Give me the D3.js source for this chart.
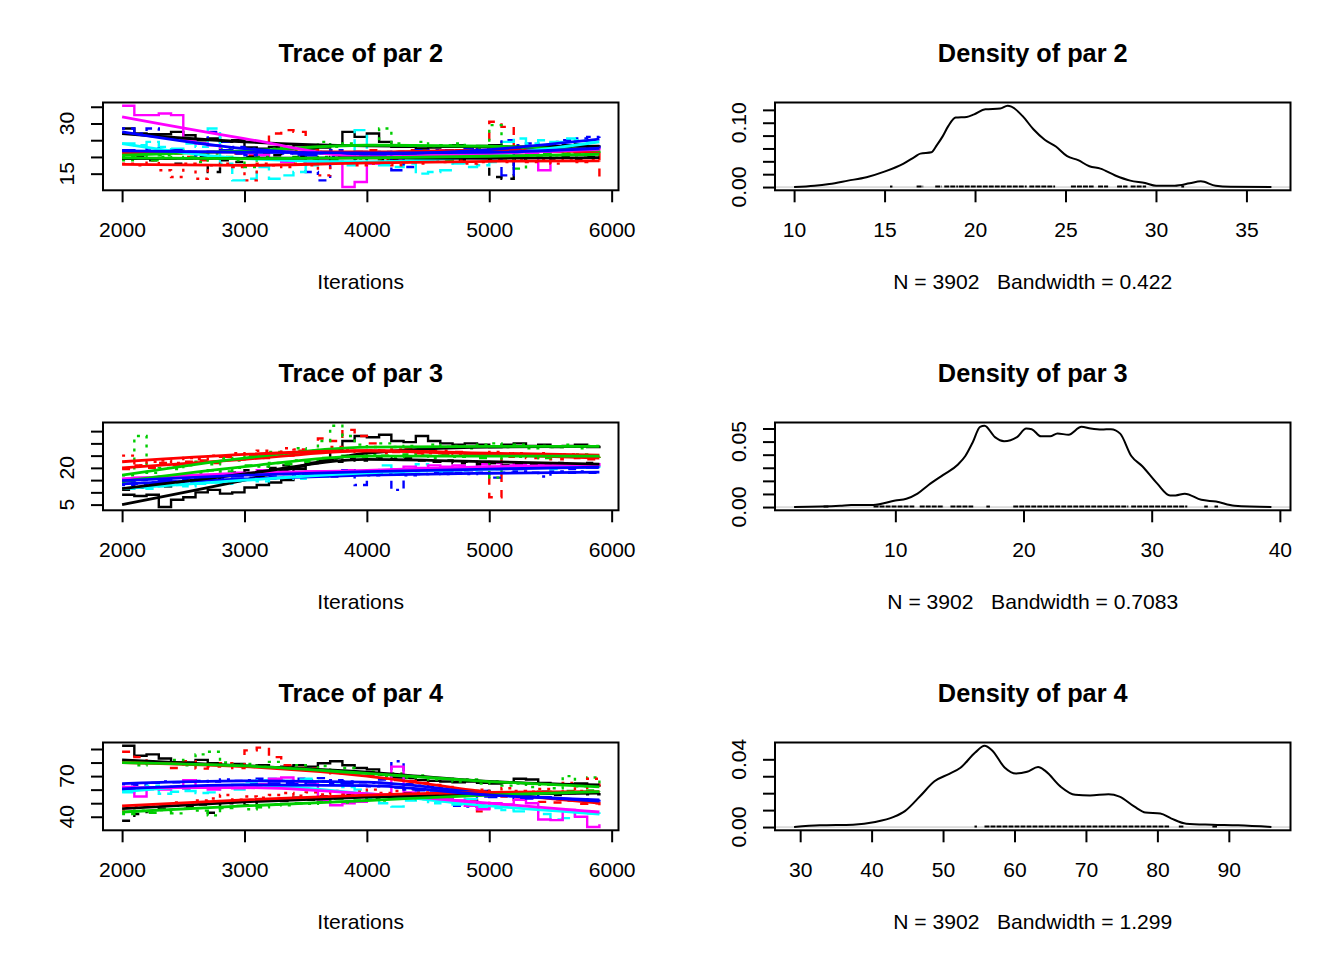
<!DOCTYPE html>
<html><head><meta charset="utf-8">
<script src="https://cdn.jsdelivr.net/npm/d3@7"></script>
<style>
body{margin:0;background:#fff}
text{font-family:"Liberation Sans",Arial,sans-serif;fill:#000}
</style>
</head><body>
<svg id="c" width="1344" height="960"></svg>
<script>
// ---------------- DATA ----------------
const traceIter = [2000,2100,2200,2300,2400,2500,2600,2700,2800,2900,
                   3000,3100,3200,3300,3400,3500,3600,3700,3800,3900,
                   4000,4100,4200,4300,4400,4500,4600,4700,4800,4900,
                   5000,5100,5200,5300,5400,5500,5600,5700,5800,5900];
const smoothIter = [2000,3000,4000,5000,5900];
const xTicksTrace = [2000,3000,4000,5000,6000];

const par2Chains = [
 [28.5,27,26.8,26.8,27.5,26.5,25,25.5,24.5,25, 22.8,22.5,23,22.5,23.5,22.5,22.8,23.5,27.5,26, 27,24.5,23,23,22.5,22.8,23,23.5,23,23.3, 23.5,22.5,22.8,23,23.4,23.2,23.5,23.8,23.2,23.5],
 [21.5,20.5,21,22,21,20,19,21.5,22,21, 20.5,21,27,28,27.5,22,21.5,21,20.5,21.5, 22,21,21.5,22,21,20.5,22,21.5,22.5,21, 30.5,29,22,21.5,22,21.5,22.5,21,22,14],
 [19,20,21,20.5,22,21.5,20,21,22.5,21.5, 21,22,22.5,23,22,23.5,24.5,23,24,23.5, 23.5,28.5,24,23.5,24.5,23,23.5,24,23,22.5, 29.5,23,22.5,21.5,22,21.5,21,22,21.5,22],
 [28.5,27,28.5,26,25.5,25,24,27.5,24.5,23, 22.5,21.5,22,21,20.5,15.5,13,20,21,20.5, 21,20.5,21.5,17,21,22,21.5,22,21.5,23, 22.5,25,23.5,24,23.5,24.5,25,25.5,26,27],
 [24,23.5,24.5,23,22.5,24,23,28.5,18,13, 13.5,17,13.5,14.5,15.5,17.5,18,18.5,17.5,28, 18,17.5,17,18,15,15.5,16,18,17,17.5, 18.5,24.5,25.5,24,25,24.5,25.5,25,24.5,25],
 [35.3,32.5,32.5,33,32.5,25,24,23.5,22,21.5, 21,20.5,19.5,18.5,19,18.5,19,18.5,11,12.5, 18,18.5,19,20.5,21,20.5,22,21.5,20.5,21, 21.5,20,20.5,21,16,21.5,22,21.5,22.5,22],
 [19.5,20,19,19.5,18,19.5,20,15.5,19,18.5, 20,19.5,20.5,19.5,20,19.5,18.5,20,20.5,19.5, 20,19,19.5,20.5,20,19.5,20,19,20.5,20, 14,13.5,19,20,20.5,19.5,20,19,20,20.5],
 [18,17.5,19,16,14,18,13.5,17.5,18,17, 13,18,17.5,17,18,17.5,14.5,18,18.5,17.5, 18,19,17.5,18.5,18,19,18.5,19,18,18.5, 19,18.5,19.5,18.5,19,18,19.5,18.5,19,18.5],
 [20,19.5,19,20,19.5,20,18.5,19.5,20,19, 17,20,19.5,19,20,19.5,20,19,20.5,19.5, 20,19.5,20,20.5,19.5,20,19,20.5,20,21, 20.5,19.5,16.5,20.5,21,20.5,21,20.5,21.5,21],
 [22,21.5,22.5,21,22,21.5,20.5,21.5,22,21, 20.5,21.5,22,21.5,21,20.5,21.5,22,21,21.5, 20.5,21.5,16,21,22,21.5,22,21.5,22.5,22, 21.5,14.5,22,22.5,21.5,22,23,22.5,23,22.5]
];
const par2Smooth = [
 [27,24.5,23.3,23.0,23.2],[21,21.5,21.5,22,21.5],[20.5,21.8,23.5,23.2,22],[27.5,22.5,20.8,22.2,25.3],[24,19.5,18.5,20.5,24.5],
 [32,25.5,20,21,22.3],[19.5,19.6,19.7,19.6,19.8],[17.8,17.5,18.2,18.7,18.8],[19.7,19.5,19.7,20.2,20.8],[21.8,21.4,21.2,21.4,22.6]
];

const par3Chains = [
 [9,8.5,9,4,7,8,10,11,9.5,10, 12,13,14,15,19.5,22,23,27.5,31,33, 32.5,33.5,31,30.5,33,31,30,29.5,30,29.5, 28.5,29.5,30,29,29.5,28.5,29,29.5,28.5,29],
 [19.5,21,20,22,21,22.5,23,22,24.5,23.5, 25,24,26,25,27,26.5,32,31,35.5,33, 30,27,26.5,28,26,27,25.5,26.5,25,26, 8,24.5,25.5,24,25,23.5,24.5,24,23.5,24],
 [17,33,18,20,19.5,21,22.5,21.5,24,23, 25.5,24.5,26.5,25.5,28,27,31,37.2,33,29.5, 28.5,30,28.5,29,28,29.5,28.5,29,28,29.5, 30,28.5,29.5,28,29,28.5,29.5,28,29,28.5],
 [13,13.5,14,13,14.5,14,15,14.5,15.5,15, 16,15.5,16.5,16,17,16.5,17,16.5,17.5,13, 17,17.5,11,17,17.5,18,17.5,18,17.5,18, 16,18,18.5,18,16.5,18.5,18,18.5,18,18.5],
 [11.5,12,11.5,12.5,13,12.5,13.5,14,13.5,14.5, 15,14.5,15.5,16,15.5,17,16.5,17.5,17,18, 18.5,21,18,19.5,21.5,19,18.5,19.5,19,20, 19.5,20,19.5,20.5,20,19.5,20.5,20,20.5,21],
 [15.5,16,15.5,16.5,16,17,16.5,17,17.5,18, 17.5,19,18,17.5,18,18.5,18,18.5,19,18.5, 19,18.5,19.5,20.5,20,21,20.5,21,20,21.5, 22,21,21.5,20.5,21.5,21,20.5,21.5,21,22],
 [11,12,13,12.5,14,15,16,15.5,17,18, 19,18.5,20,21,20.5,22,23,22.5,24,23, 24.5,24,23.5,24,23,22.5,23,22,22.5,21.5, 22,21,22,21.5,21,22,21.5,21,22,21.5],
 [25,21,22.5,23,22,24,23.5,25,24.5,26, 25.5,27,26,28,27.5,26.5,27,28.5,27.5,26.5, 27,26,27.5,26.5,25.5,26,27,25.5,26,25, 26.5,25.5,26,25,26,24.5,25.5,25,24.5,25.5],
 [14,15,16,15.5,17,16.5,18,19,18.5,20, 21,20.5,22,21.5,23,22.5,24,23.5,25,24.5, 25.5,25,24.5,25.5,25,24,25,24.5,25.5,24, 16,25,24.5,25.5,24,25,24.5,25.5,24.5,25],
 [14.5,15,15.5,15,16,15.5,16,16.5,17,16.5, 17.5,17,18,17.5,18,17.5,18.5,18,19,18.5, 18,19,18.5,19,19.5,19,18.5,19.5,19,20, 19.5,20,19.5,20,20.5,20,19.5,20.5,20,20.5]
];
const par3Smooth = [
 [5,15,26,28.5,28.8],[20,23.5,27,25.5,24],[17,24,28.5,28.8,28.8],[13.5,15.5,17,17.8,18.3],[11.5,15,18,19.5,20.5],
 [15.5,17.8,19,20.5,21.3],[11.5,17.5,23.5,22.5,21.5],[22.5,25.5,27,26,25.2],[14.5,20.5,24.8,24.8,24.8],[14.8,17,18.5,19.5,20.3]
];

const par4Chains = [
 [92.4,85,86,83,80,80,82,79.5,78,79, 77.5,78,76.5,77,78,77,79.5,81,78,76, 75,71,69,68.5,67,66.5,66,65.5,66,65, 64.5,65,68,67.5,65,64,63.5,64.5,63,63.5],
 [88,84,80,79,76,81,75.5,77,79.5,76, 89,91,84,78,76,75.5,74,72,73,71, 70.5,68,67,66.5,65,63.5,62,60.5,52,44, 58,55,52.5,54,51,50.5,52,49.5,50,48.5],
 [80,78,81,79.5,82,78,86,88,80,78.5, 79,77,80.5,76,78,75,77.5,74,76,72, 73.5,70,72,69,70.5,67.5,68,66,67.5,64.5, 66,63,64.5,62,63.5,61,70,62.5,69,61.5],
 [64,63.5,65,66,65.5,67,66.5,66,67.5,66.5, 67,68,67.5,66.5,68,67,68.5,67,66,65.5, 65,67.5,81,64,63,62,60,48,47.5,59, 57.5,56,55.5,56,54.5,53,52.5,52,51.5,51],
 [58,60,63,57,58.5,59,57.5,58,62,60, 66,67,68,66.5,67.5,68,66,65.5,62,60, 53,50,47.5,52,55,50,51.5,49,53,47, 46.5,45,44,46,42,38,39,44,42.5,42],
 [62,55,61,60,62,67,61.5,60,62.5,61, 62,64,68,69,66,64,52,48.5,50,51, 56,55,77,58,56.5,55,54,52,48,45.5, 50,49,52.5,50,38,37.5,45,40,32.4,34.5],
 [37,42,44,46,48,47,49,43,50,51, 48.5,52,53,51.5,54,52.5,55,53.5,56,55, 54,55.5,56,57,55,56.5,57.5,56,58,59, 57.5,58,55.5,57,58.5,56,57.5,58,56.5,57.5],
 [44,48,47.5,49,50.5,49,52,53.5,56,52.5, 55,54,56,57.5,55.5,58,56.5,59,57,58.5, 60,57.5,59,60.5,58,61,57,59.5,58,60, 57.5,61,59,58.5,60.5,58,65,59,68,60],
 [42,44.5,43,45,42.5,46,44.5,41,46.5,48, 45.5,47,49,48.5,50,49.5,51,53,50.5,52, 54.5,52,53.5,55,53,56,54.5,57,55.5,56, 57.5,56,58,57,58.5,57.5,59,58,59.5,58.5],
 [60,61,60.5,61.5,62,61,62.5,63,62,63.5, 64,63,64.5,65,64,65.5,66,65,64.5,63, 62.5,63,61.5,60,59.5,58,57.5,56,56.5,55, 54.5,55.5,54,53.5,54.5,53,52.5,53,52,52.5]
];
const par4Smooth = [
 [82,77.5,73,66,63.5],[80,77,70,58,50],[80,77.5,72,66,62],[64.5,66.5,65.5,57,51.5],[58.5,63.5,57,48,42],
 [61.5,61.5,57,50,43.5],[46,51,54.5,56.5,57.5],[48,52.5,56,58,58.5],[43.5,48,52,56,58.5],[60.5,63.5,63,56,52.5]
];

const dens2X = [10.0,11.13,11.95,12.98,14.0,15.03,16.05,16.67,16.98,17.59,17.9,18.21,18.52,18.93,19.54,19.95,20.57,21.39,21.8,22.01,22.62,23.24,23.85,24.47,25.09,25.7,26.32,26.93,27.75,28.58,29.4,30.01,31.04,31.86,32.48,33.3,34.12,36.38];
const dens2Y = [0,0.002,0.0048,0.010,0.0153,0.0243,0.0365,0.047,0.052,0.054,0.0656,0.0788,0.0947,0.108,0.109,0.113,0.121,0.122,0.1264,0.125,0.1106,0.0894,0.0735,0.063,0.0481,0.0418,0.0323,0.0286,0.018,0.01,0.0063,0.0021,0.0021,0.0058,0.009,0.002,0.0005,0];
const dens3X = [2.1,5.69,6.55,8.27,10.0,10.86,11.73,12.59,13.74,14.89,15.46,16.04,16.61,16.96,17.77,18.48,19.49,20.21,20.64,21.36,22.08,22.65,23.52,24.52,25.24,26.1,26.82,27.54,28.41,29.27,30.42,31.43,31.86,32.58,33.87,35.02,36.46,39.34];
const dens3Y = [0,0.001,0.0016,0.0016,0.005,0.0063,0.0102,0.0168,0.0246,0.0325,0.039,0.0495,0.0613,0.0621,0.0534,0.0503,0.0534,0.06,0.0595,0.054,0.054,0.0561,0.0553,0.0613,0.06,0.0592,0.0595,0.0561,0.039,0.0312,0.0181,0.0089,0.0089,0.0102,0.0055,0.0042,0.001,0];
const dens4X = [29.15,32.75,37.4,40.5,43.1,44.66,46.74,48.8,50.88,52.44,54.5,55.8,56.84,58.65,60.2,61.76,63.3,64.35,66.42,68.5,70.57,73.16,74.7,76.8,78.34,80.41,81.97,84.04,87.67,91.3,95.96];
const dens4Y = [0,0.001,0.0014,0.003,0.006,0.0094,0.018,0.027,0.0314,0.035,0.044,0.048,0.0454,0.035,0.0316,0.0326,0.0354,0.033,0.024,0.019,0.0186,0.0194,0.018,0.012,0.0086,0.008,0.005,0.002,0.0014,0.001,0];

const rug2 = [[15.3,15.38],[16.77,17.08],[17.8,18.1],[18.3,19.0],[19.1,22.8],[23.0,24.37],[25.3,26.5],[26.8,27.3],[27.85,28.37],[28.6,29.4],[31.4,31.5]];
const rug3 = [[4.4,4.7],[8.3,11.4],[11.9,13.7],[14.3,16.0],[17.1,17.3],[19.2,28.1],[28.4,32.7],[34.1,34.3],[34.9,35.1]];
const rug4 = [[54.4,54.6],[55.8,81.5],[83,83.5],[87.7,88.2]];

const traceTitles = ["Trace of par 2","Trace of par 3","Trace of par 4"];
const densTitles = ["Density of par 2","Density of par 3","Density of par 4"];
const densXLabels = ["N = 3902   Bandwidth = 0.422","N = 3902   Bandwidth = 0.7083","N = 3902   Bandwidth = 1.299"];
const traceYTicks = [[15,20,25,30,35],[5,10,15,20,25,30,35],[40,50,60,70,80,90]];
const traceYLabels = [["15","","","30",""],["5","","","20","","",""],["40","","","70","",""]];
const densXTicks = [[10,15,20,25,30,35],[10,20,30,40],[30,40,50,60,70,80,90]];
const densYTicks = [[0,0.02,0.04,0.06,0.08,0.10,0.12],[0,0.01,0.02,0.03,0.04,0.05,0.06],[0,0.01,0.02,0.03,0.04]];
const densYLabels = [["0.00","","","","","0.10",""],["0.00","","","","","0.05",""],["0.00","","","","0.04"]];

// styles
const chainColors = ["#000000","#FF0000","#00CD00","#0000FF","#00FFFF","#FF00FF","#000000","#FF0000","#00CD00","#0000FF"];
const chainDash = [null,"8,8","3,6","3,6,8,6","14,6",null,"8,8","3,6","3,6,8,6","14,6"];

// ---------------- DRAW ----------------
const svg = d3.select("#c");
const FW = 672, FH = 320;
const M = {left:103, right:53.5, top:102.5, bottom:129.7};
const AX = 21.1, TT = 25.3;

function rPad(ext){ const s = ext[1]-ext[0]; return [ext[0]-0.04*s, ext[1]+0.04*s]; }

function frame(g, x0, y0, x1, y1, xs, ys, xTicks, yTicks, yLabels, title, xlab){
  const cx = (x0+x1)/2;
  g.append("rect").attr("x",x0).attr("y",y0).attr("width",x1-x0).attr("height",y1-y0)
    .attr("fill","none").attr("stroke","#000").attr("stroke-width",2);
  const ax = g.append("g").attr("transform",`translate(0,${y1})`)
    .call(d3.axisBottom(xs).tickValues(xTicks).tickSizeInner(12).tickSizeOuter(0).tickPadding(20).tickFormat(d3.format("d")));
  ax.select(".domain").remove();
  ax.selectAll("line").attr("stroke","#000").attr("stroke-width",2);
  ax.selectAll("text").attr("font-size",AX).style("font-family","'Liberation Sans',Arial,sans-serif");
  const ay = g.append("g").attr("transform",`translate(${x0},0)`)
    .call(d3.axisLeft(ys).tickValues(yTicks).tickSizeInner(12).tickSizeOuter(0).tickFormat(""));
  ay.select(".domain").remove();
  ay.selectAll("line").attr("stroke","#000").attr("stroke-width",2);
  g.selectAll(null).data(yTicks.map((v,i)=>({v,l:yLabels[i]})).filter(d=>d.l!==""))
    .enter().append("text")
    .attr("transform",d=>`translate(${x0-29},${ys(d.v)}) rotate(-90)`)
    .attr("text-anchor","middle").attr("font-size",AX).text(d=>d.l);
  g.append("text").attr("x",cx).attr("y",y0-41).attr("text-anchor","middle")
    .attr("font-size",TT).attr("font-weight","bold").text(title);
  g.append("text").attr("x",cx).attr("y",y1+98.2).attr("text-anchor","middle")
    .attr("font-size",AX).attr("xml:space","preserve").style("white-space","pre").text(xlab);
}

const allChains = [par2Chains, par3Chains, par4Chains];
const allSmooth = [par2Smooth, par3Smooth, par4Smooth];
const densX = [dens2X, dens3X, dens4X];
const densY = [dens2Y, dens3Y, dens4Y];
const rugs = [rug2, rug3, rug4];

for (let r=0; r<3; r++){
  // ---- trace panel ----
  const oy = r*FH;
  const x0 = M.left, x1 = FW-M.right, y0 = oy+M.top, y1 = oy+FH-M.bottom;
  const g = svg.append("g");
  const xs = d3.scaleLinear().domain(rPad(d3.extent(traceIter))).range([x0,x1]);
  const ys = d3.scaleLinear().domain(rPad(d3.extent(allChains[r].flat()))).range([y1,y0]);
  const cid = "clipT"+r;
  svg.append("clipPath").attr("id",cid).append("rect").attr("x",x0).attr("y",y0).attr("width",x1-x0).attr("height",y1-y0);
  const lg = g.append("g").attr("clip-path",`url(#${cid})`);
  const stepLine = d3.line().x((d,i)=>xs(traceIter[i])).y(d=>ys(d)).curve(d3.curveStepAfter);
  allChains[r].forEach((ch,k)=>{
    lg.append("path").attr("d",stepLine(ch)).attr("fill","none")
      .attr("stroke",chainColors[k]).attr("stroke-width",2.4)
      .attr("stroke-dasharray",chainDash[k]);
  });
  const smLine = d3.line().x((d,i)=>xs(smoothIter[i])).y(d=>ys(d)).curve(d3.curveMonotoneX);
  allSmooth[r].forEach((sm,k)=>{
    lg.append("path").attr("d",smLine(sm)).attr("fill","none")
      .attr("stroke",chainColors[k]).attr("stroke-width",2.8);
  });
  frame(g, x0, y0, x1, y1, xs, ys, xTicksTrace, traceYTicks[r], traceYLabels[r], traceTitles[r], "Iterations");

  // ---- density panel ----
  const dx0 = FW+M.left, dx1 = 2*FW-M.right;
  const gd = svg.append("g");
  const dxs = d3.scaleLinear().domain(rPad(d3.extent(densX[r]))).range([dx0,dx1]);
  const dys = d3.scaleLinear().domain(rPad([0, d3.max(densY[r])])).range([y1,y0]);
  gd.append("line").attr("x1",dx0).attr("x2",dx1).attr("y1",dys(0)).attr("y2",dys(0))
    .attr("stroke","#BEBEBE").attr("stroke-width",1);
  gd.selectAll(null).data(rugs[r]).enter().append("line")
    .attr("x1",d=>dxs(d[0])).attr("x2",d=>dxs(d[1])+1).attr("y1",dys(0)-0.5).attr("y2",dys(0)-0.5)
    .attr("stroke","#000").attr("stroke-width",2).attr("stroke-dasharray","5,1");
  const dLine = d3.line().x(d=>dxs(d[0])).y(d=>dys(d[1])).curve(d3.curveMonotoneX);
  gd.append("path").attr("d",dLine(densX[r].map((v,i)=>[v,densY[r][i]])))
    .attr("fill","none").attr("stroke","#000").attr("stroke-width",2);
  frame(gd, dx0, y0, dx1, y1, dxs, dys, densXTicks[r], densYTicks[r], densYLabels[r], densTitles[r], densXLabels[r]);
}
</script>
</body></html>
